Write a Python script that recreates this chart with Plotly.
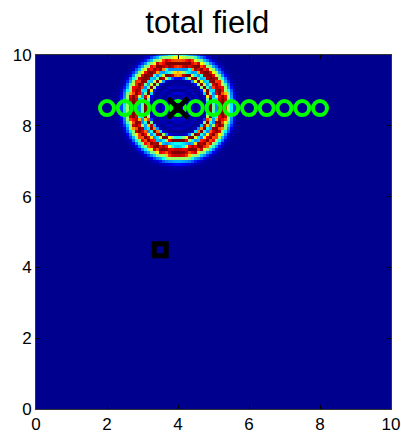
import numpy as np
import plotly.graph_objects as go

# ---- data ----
grid_x = np.linspace(0, 10, 121)
grid_y = np.linspace(0, 10, 121)
source_xy = (4.0, 8.52)          # centre of the ring pattern
outer_ring = dict(r=1.22, amp=0.75, w_in=0.11, w_out=0.22)
inner_ring = dict(r=0.93, amp=0.75, w_in=0.07, w_out=0.085)
halo = dict(r=1.5, amp=0.09, w_in=0.2, w_out=0.12)

receiver_x = [2.0, 2.5, 3.0, 3.5, 4.0, 4.5, 5.0, 5.5, 6.0, 6.5, 7.0, 7.5, 8.0]
receiver_y = [8.5] * 13
cross_x = [4.0]
cross_y = [8.5]
scatterer_x = [3.5]
scatterer_y = [4.5]
tick_vals = [0, 2, 4, 6, 8, 10]
tick_text = ["0", "2", "4", "6", "8", "10"]


def ring(R, p):
    w = np.where(R < p["r"], p["w_in"], p["w_out"])
    return p["amp"] * np.exp(-((R - p["r"]) / w) ** 2)


X, Y = np.meshgrid(grid_x, grid_y)
R = np.hypot(X - source_xy[0], Y - source_xy[1])
fine = 0.85 + 0.15 * np.cos(2 * np.pi * R / 0.105)
inner = 0.06 * np.exp(-(R / 0.7) ** 2) * (0.5 + 0.5 * np.cos(2 * np.pi * R / 0.2))
Z = (ring(R, outer_ring) + ring(R, inner_ring)) * fine + ring(R, halo) + inner

jet = [
    [0.0, "rgb(0,0,143)"],
    [0.111, "rgb(0,0,255)"],
    [0.365, "rgb(0,255,255)"],
    [0.619, "rgb(255,255,0)"],
    [0.873, "rgb(255,0,0)"],
    [1.0, "rgb(128,0,0)"],
]

fig = go.Figure()
fig.add_trace(go.Heatmap(x=grid_x, y=grid_y, z=Z, colorscale=jet, zmin=0, zmax=0.6,
                         showscale=False, zsmooth=False, hoverinfo="skip"))
fig.add_trace(go.Scatter(x=receiver_x, y=receiver_y, mode="markers",
                         marker=dict(symbol="circle-open", size=14, color="#00ff00",
                                     line=dict(width=4, color="#00ff00")),
                         showlegend=False))
fig.add_trace(go.Scatter(x=cross_x, y=cross_y, mode="markers",
                         marker=dict(symbol="x-thin-open", size=20, color="black",
                                     line=dict(width=5, color="black")),
                         showlegend=False))
fig.add_trace(go.Scatter(x=scatterer_x, y=scatterer_y, mode="markers",
                         marker=dict(symbol="square-open", size=12, color="black",
                                     line=dict(width=5, color="black")),
                         showlegend=False))

axis_common = dict(range=[0, 10], tickvals=tick_vals, ticktext=tick_text,
                   ticks="inside", ticklen=4, tickcolor="black", showline=True,
                   linecolor="#333333", linewidth=1, mirror="ticks", showgrid=False,
                   zeroline=False, automargin=False,
                   tickfont=dict(family="Arial, Liberation Sans", size=17, color="black"))
fig.update_layout(
    width=401, height=434,
    margin=dict(l=36, r=10, t=55, b=25),
    paper_bgcolor="white", plot_bgcolor="white",
    title=dict(text="total field", x=0.517, xanchor="center", y=0.949, yanchor="middle",
               automargin=False,
               font=dict(family="Arial, Liberation Sans", size=31, color="black")),
    xaxis=axis_common,
    yaxis=axis_common,
)
fig.write_html("out.html")
